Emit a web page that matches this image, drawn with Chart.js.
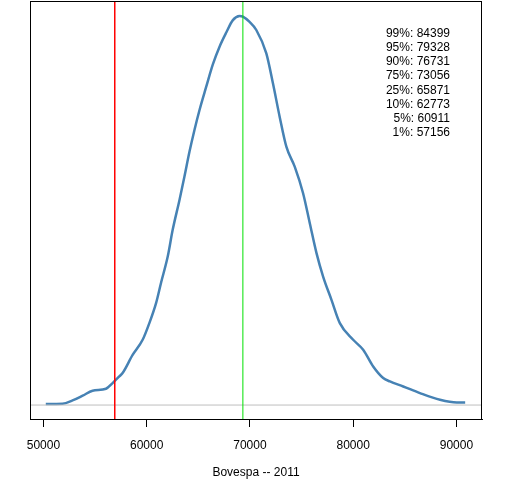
<!DOCTYPE html>
<html>
<head>
<meta charset="utf-8">
<script src="https://cdn.jsdelivr.net/npm/chart.js@4"></script>
<style>
  body { margin: 0; background: #fff; }
</style>
</head>
<body>
<canvas id="densityChart" width="512" height="480"></canvas>
<script>
// Density of simulated Bovespa level at end of 2011
const bovespaValues = [50230, 51850, 52820, 53800, 54760, 56060, 56700, 57350, 57670, 58640,
  59610, 60260, 60910, 61400, 62040, 62520, 63180, 63660, 64150, 64630,
  65120, 65770, 66410, 67060, 67710, 68350, 69000, 69320, 69970, 70620,
  71590, 72230, 72880, 73530, 74340, 75150, 75800, 76450, 77090, 77900,
  78710, 80000, 80970, 81940, 82910, 83560, 84850, 86470, 88410, 90040, 90850];
// density (x 1e-5)
const densityValues = [0.017, 0.022, 0.078, 0.158, 0.242, 0.276, 0.373, 0.485, 0.543, 0.850,
  1.107, 1.390, 1.729, 2.080, 2.519, 2.972, 3.480, 3.876, 4.300, 4.667,
  5.006, 5.401, 5.780, 6.080, 6.320, 6.530, 6.600, 6.590, 6.500, 6.363,
  5.967, 5.459, 4.893, 4.384, 4.045, 3.594, 3.085, 2.577, 2.180, 1.785,
  1.390, 1.107, 0.938, 0.654, 0.458, 0.400, 0.315, 0.203, 0.090, 0.044, 0.044];

const quantileLabels = ['99%', '95%', '90%', '75%', '25%', '10%', '5%', '1%'];
const quantileValues = [84399, 79328, 76731, 73056, 65871, 62773, 60911, 57156];

const tickValues = [50000, 60000, 70000, 80000, 90000];
const currentLevel = 56910;   // red line
const medianLevel = 69320;    // green line
const xMin = 48700, xMax = 92480;
const yMin = -0.237, yMax = 6.855;

const FONT = '"Liberation Sans", Arial, sans-serif';

// frame round the plot + quantile text
const framePlugin = {
  id: 'frame',
  afterDraw(chart) {
    const { ctx, chartArea } = chart;
    ctx.save();
    ctx.strokeStyle = '#000';
    ctx.lineWidth = 1;
    ctx.strokeRect(chartArea.left + 0.5, chartArea.top + 0.5,
      chartArea.right - chartArea.left - 1, chartArea.bottom - chartArea.top);
    ctx.fillStyle = '#000';
    ctx.font = '12px ' + FONT;
    ctx.textAlign = 'right';
    ctx.textBaseline = 'middle';
    quantileLabels.forEach((q, i) => {
      ctx.fillText(q + ': ' + quantileValues[i], chartArea.right - 32, chartArea.top + 32.5 + i * 14.2);
    });
    ctx.restore();
  }
};

const ctx = document.getElementById('densityChart').getContext('2d');

new Chart(ctx, {
  type: 'line',
  data: {
    datasets: [{
      data: [{ x: currentLevel, y: yMin }, { x: currentLevel, y: yMax }],
      borderColor: '#FF0000',
      borderWidth: 1.5,
      order: 1
    }, {
      data: [{ x: medianLevel, y: yMin }, { x: medianLevel, y: yMax }],
      borderColor: '#00E000',
      borderWidth: 1,
      order: 1
    }, {
      data: [{ x: xMin, y: 0 }, { x: xMax, y: 0 }],
      borderColor: '#BEBEBE',
      borderWidth: 1,
      order: 1
    }, {
      data: bovespaValues.map((v, i) => ({ x: v, y: densityValues[i] })),
      borderColor: '#4682B4',
      borderWidth: 2.5,
      cubicInterpolationMode: 'monotone',
      order: 2
    }]
  },
  options: {
    responsive: false,
    animation: false,
    devicePixelRatio: 1,
    layout: { padding: { left: 30, right: 30, top: 1, bottom: 0 } },
    elements: { point: { radius: 0 } },
    plugins: {
      legend: { display: false },
      tooltip: { enabled: false }
    },
    scales: {
      x: {
        type: 'linear',
        min: xMin,
        max: xMax,
        afterBuildTicks(scale) {
          scale.ticks = tickValues.map(v => ({ value: v }));
        },
        afterFit(scale) {
          scale.height = 61;
        },
        grid: {
          drawOnChartArea: false,
          drawTicks: true,
          tickLength: 8,
          color: '#000'
        },
        border: { display: true, color: '#000' },
        ticks: {
          color: '#000',
          padding: 11,
          maxRotation: 0,
          autoSkip: false,
          font: { family: FONT, size: 12 },
          callback: v => String(v)
        },
        title: {
          display: true,
          text: 'Bovespa -- 2011',
          color: '#000',
          padding: { top: 0, bottom: 0 },
          font: { family: FONT, size: 12 }
        }
      },
      y: {
        display: false,
        min: yMin,
        max: yMax
      }
    }
  },
  plugins: [framePlugin]
});
</script>
</body>
</html>
